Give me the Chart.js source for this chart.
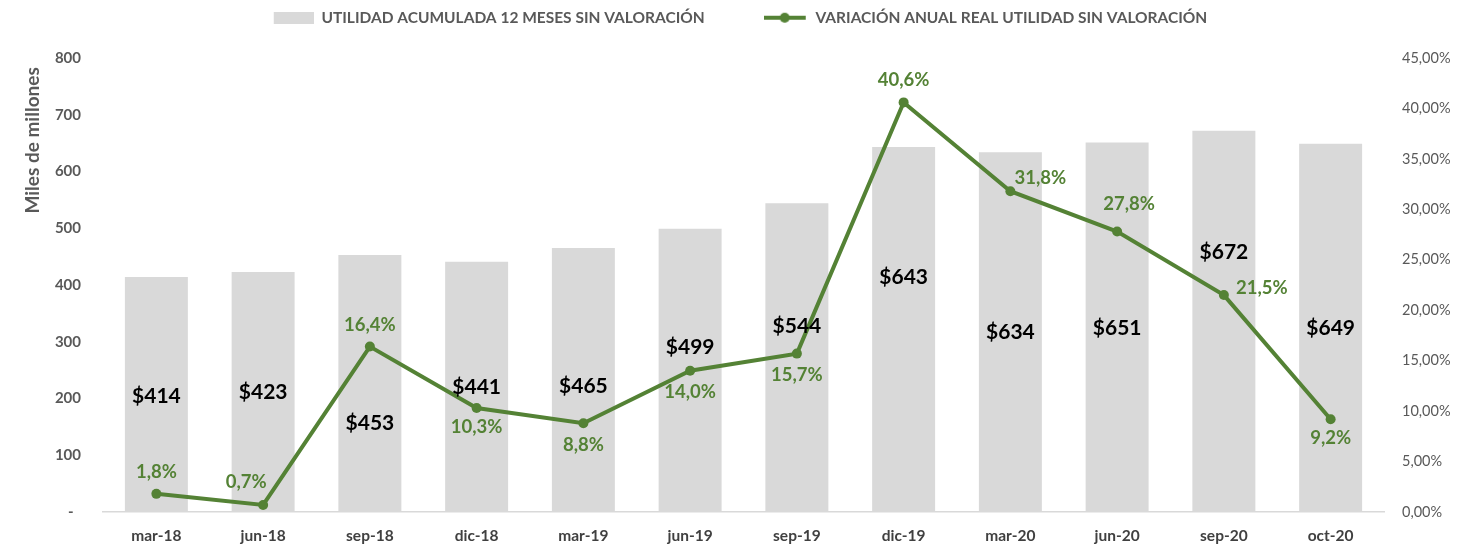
<!DOCTYPE html>
<html>
<head>
<meta charset="utf-8">
<script src="https://cdn.jsdelivr.net/npm/chart.js@4.4.0/dist/chart.umd.min.js"></script>
<style>
  html, body { margin: 0; padding: 0; background: #fff; }
  #wrap { width: 1477px; height: 546px; }
</style>
</head>
<body>
<div id="wrap"><canvas id="myChart" width="1477" height="546"></canvas></div>
<script>
// datos
const categories = ['mar-18', 'jun-18', 'sep-18', 'dic-18', 'mar-19', 'jun-19', 'sep-19', 'dic-19', 'mar-20', 'jun-20', 'sep-20', 'oct-20'];
const utilidad = [414, 423, 453, 441, 465, 499, 544, 643, 634, 651, 672, 649];
const variacion = [1.8, 0.7, 16.4, 10.3, 8.8, 14.0, 15.7, 40.6, 31.8, 27.8, 21.5, 9.2];
const leftTicks = [0, 100, 200, 300, 400, 500, 600, 700, 800];
const rightTicks = [0, 5, 10, 15, 20, 25, 30, 35, 40, 45];

const verde = '#548235';
const gris = '#d9d9d9';
const FONT = 'Lato';

// where the labels sit (left axis units / pixel shifts)
const barLabelAt = [204, 211, 157, 220, 222, 291, 328, 414, 317, 324, 458, 324];
const lineLabelShift = [[0, -22], [-17, -23], [0, -22], [0, 19], [0, 22], [0, 21], [0, 21], [0, -22], [30, -13], [12, -27], [38, -7], [0, 19]];

// legend icons
function iconBar() {
  var c = document.createElement('canvas');
  c.width = 44; c.height = 12;
  var g = c.getContext('2d');
  g.fillStyle = gris;
  g.fillRect(4, 0, 40, 12);
  return c;
}
function iconLine() {
  var c = document.createElement('canvas');
  c.width = 44; c.height = 12;
  var g = c.getContext('2d');
  g.strokeStyle = verde; g.lineWidth = 4;
  g.beginPath(); g.moveTo(0, 6); g.lineTo(42, 6); g.stroke();
  g.fillStyle = verde;
  g.beginPath(); g.arc(21, 6, 5, 0, Math.PI * 2); g.fill();
  return c;
}
const icons = [iconBar(), iconLine()];

// legend box gets a fixed height so the plot starts where it should
const fixSizes = {
  id: 'fixSizes',
  beforeUpdate(chart) {
    const lg = chart.legend;
    if (lg && !lg._fixed) {
      const fit = lg.fit;
      lg.fit = function () { fit.call(this); this.height = 58; };
      lg._fixed = true;
    }
  }
};

const etiquetas = {
  id: 'etiquetas',
  afterDatasetsDraw(chart) {
    const ctx = chart.ctx;
    const x = chart.scales.x, y = chart.scales.y;
    ctx.save();
    ctx.textAlign = 'center';
    ctx.textBaseline = 'middle';
    // bar values
    ctx.font = 'bold 21px ' + FONT;
    ctx.fillStyle = '#000';
    utilidad.forEach(function (v, i) {
      ctx.fillText('$' + v, x.getPixelForValue(i), y.getPixelForValue(barLabelAt[i]));
    });
    // line values
    ctx.font = 'bold 18.5px ' + FONT;
    ctx.fillStyle = verde;
    const pts = chart.getDatasetMeta(1).data;
    variacion.forEach(function (v, i) {
      const p = pts[i];
      ctx.fillText(v.toFixed(1).replace('.', ',') + '%', p.x + lineLabelShift[i][0], p.y + lineLabelShift[i][1]);
    });
    ctx.restore();
  }
};

const ctx = document.getElementById('myChart');

new Chart(ctx, {
  type: 'bar',
  data: {
    labels: categories,
    datasets: [{
      type: 'bar',
      label: 'UTILIDAD ACUMULADA 12 MESES SIN VALORACIÓN',
      data: utilidad,
      backgroundColor: gris,
      barPercentage: 1,
      categoryPercentage: 0.59,
      yAxisID: 'y',
      order: 2
    }, {
      type: 'line',
      label: 'VARIACIÓN ANUAL REAL UTILIDAD SIN VALORACIÓN',
      data: variacion,
      borderColor: verde,
      backgroundColor: verde,
      borderWidth: 4,
      pointRadius: 5,
      pointBackgroundColor: verde,
      pointBorderWidth: 0,
      tension: 0,
      yAxisID: 'y1',
      order: 1
    }]
  },
  options: {
    responsive: false,
    animation: false,
    layout: { padding: 0 },
    plugins: {
      tooltip: { enabled: false },
      legend: {
        position: 'top',
        labels: {
          usePointStyle: true,
          pointStyleWidth: 44,
          boxHeight: 12,
          padding: 10,
          color: '#595959',
          font: { family: FONT, size: 15.5, weight: 'bold' },
          generateLabels(chart) {
            const items = Chart.defaults.plugins.legend.labels.generateLabels(chart);
            items.sort(function (a, b) { return a.datasetIndex - b.datasetIndex; });
            items.forEach(function (it) { it.pointStyle = icons[it.datasetIndex]; });
            items[0].text += '             ';
            return items;
          }
        }
      }
    },
    scales: {
      x: {
        offset: true,
        grid: { display: false, drawTicks: false },
        border: { display: true, color: gris, width: 1.5 },
        ticks: { color: '#404040', padding: 15, font: { family: FONT, size: 15.5, weight: 'bold' } },
        afterFit(s) { s.height = 34; }
      },
      y: {
        position: 'left',
        min: 0, max: 800,
        afterBuildTicks(s) { s.ticks = leftTicks.map(function (v) { return { value: v }; }); },
        grid: { display: false, drawTicks: false },
        border: { display: false },
        ticks: {
          color: '#595959', padding: 22,
          font: { family: FONT, size: 15, weight: 'bold' },
          callback(v) { return v === 0 ? '-  ' : v; }
        },
        title: {
          display: true, text: 'Miles de millones  ', align: 'end', color: '#595959',
          font: { family: FONT, size: 19, weight: 'bold' },
          padding: { top: 21, bottom: 0 }
        },
        afterFit(s) { s.width = 103; }
      },
      y1: {
        position: 'right',
        min: 0, max: 45,
        afterBuildTicks(s) { s.ticks = rightTicks.map(function (v) { return { value: v }; }); },
        grid: { display: false, drawTicks: false },
        border: { display: false },
        ticks: {
          color: '#595959', padding: 18,
          font: { family: FONT, size: 14.5 },
          callback(v) { return v.toFixed(2).replace('.', ',') + '%'; }
        },
        afterFit(s) { s.width = 93; }
      }
    }
  },
  plugins: [fixSizes, etiquetas]
});
</script>
</body>
</html>
